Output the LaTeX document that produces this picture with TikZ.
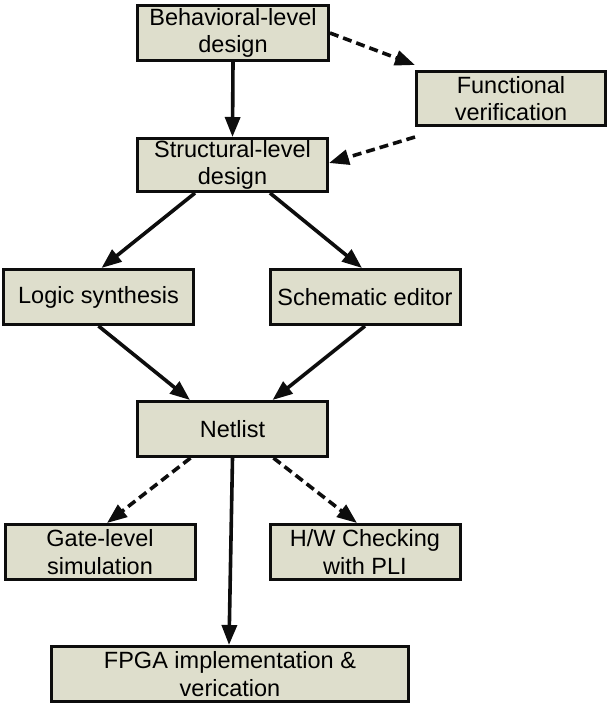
\documentclass[tikz,border=0pt]{standalone}
\usepackage{fontspec}
\setmainfont{Liberation Sans}
\usepackage{xcolor}
\usetikzlibrary{arrows.meta}
\definecolor{boxFill}{rgb}{0.87,0.87,0.80}
\definecolor{lineDark}{rgb}{0.05,0.05,0.05}

\begin{document}
\begin{tikzpicture}[x=1pt,y=-1pt,
  box/.style={draw=lineDark,line width=3pt,fill=boxFill,align=center,
    inner sep=0pt,minimum width=190pt,minimum height=55pt,
    font=\fontsize{23.5}{27.5}\selectfont},
  flow/.style={draw=lineDark,line width=3.6pt,-{Triangle[length=20pt,width=15pt]}},
  check/.style={flow,dash pattern=on 9pt off 5pt}]

  % Frame
  \useasboundingbox (0,0) rectangle (610,705);

  % Design steps
  \node[box,minimum width=191pt] (behav) at (233,33) {Behavioral-level\\design};
  \node[box,minimum width=189pt,minimum height=54pt] (func) at (511,98.5) {Functional\\verification};
  \node[box,minimum height=53pt] (struct) at (232.5,165) {Structural-level\\design};

  % Synthesis paths
  \node[box] (logic) at (98.5,297) {Logic synthesis};
  \node[box] (schem) at (365,297) {Schematic editor};
  \node[box] (net) at (232.5,429) {Netlist};

  % Checking and implementation
  \node[box] (gate) at (100,552) {Gate-level\\simulation};
  \node[box] (hw) at (365,552) {H/W Checking\\with PLI};
  \node[box,minimum width=357pt] (fpga) at (230,674) {FPGA implementation \&\\verication};

  % Solid flow
  \draw[flow] (behav.south) -- (struct.north);
  \draw[flow] ([xshift=-37.5pt]struct.south) -- ([xshift=3pt]logic.north);
  \draw[flow] ([xshift=37.5pt]struct.south) -- ([xshift=-3pt]schem.north);
  \draw[flow] (logic.south) -- ([xshift=-42.5pt]net.north);
  \draw[flow] (schem.south) -- ([xshift=40pt]net.north);
  \draw[flow] (net.south) -- ([xshift=-1pt]fpga.north);

  % Dashed verification
  \draw[check] (behav.east) -- ([yshift=5pt]func.north west);
  \draw[check] ([yshift=-10pt]func.south west) -- ([yshift=2pt]struct.east);
  \draw[check] ([xshift=-42pt]net.south) -- ([xshift=7pt]gate.north);
  \draw[check] ([xshift=41pt]net.south) -- ([xshift=-8pt]hw.north);

\end{tikzpicture}
\end{document}
